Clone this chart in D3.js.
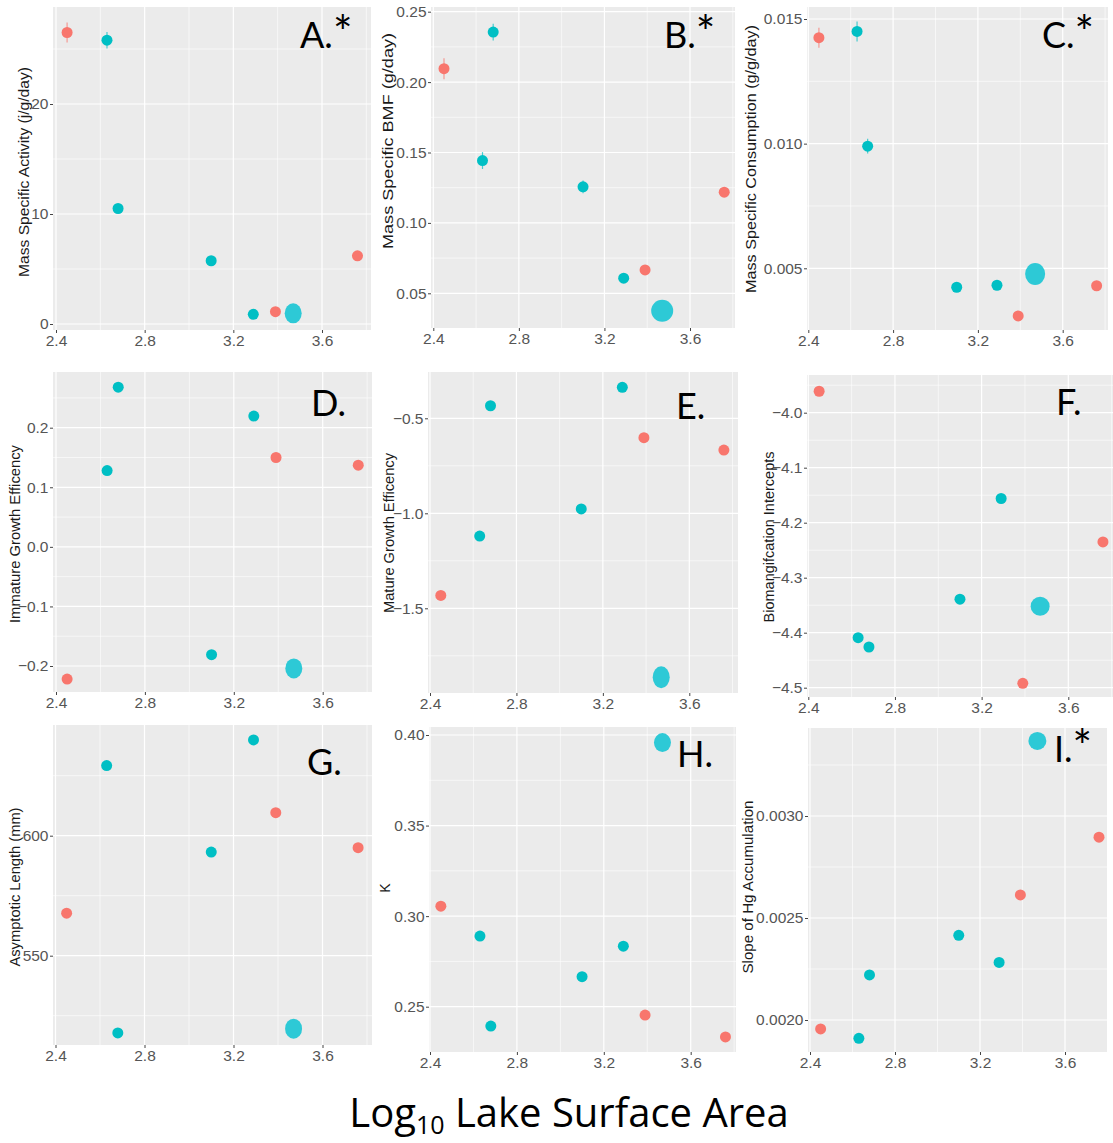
<!DOCTYPE html>
<html>
<head>
<meta charset="utf-8">
<script src="https://cdn.jsdelivr.net/npm/d3@7"></script>
<style>
  html, body { margin: 0; padding: 0; background: #fff; }
  svg { display: block; }
</style>
</head>
<body>
<svg id="fig" width="1113" height="1143"></svg>
<script>
// Log10 lake surface area of each lake and the lake grouping
const lakeArea = [2.45, 2.63, 2.68, 3.10, 3.29, 3.39, 3.47, 3.76];
const lakeGroup = ["red", "cyan", "cyan", "cyan", "cyan", "red", "highlight", "red"];

// Response variables, one value per lake (same order as lakeArea)
const massActivity   = [26.5, 25.8, 10.5, 5.75, 0.88, 1.12, 0.97, 6.2];
const activityErr    = [0.9, 0.75, 0, 0, 0, 0, 0, 0];
const massBMF        = [0.2095, 0.1443, 0.2355, 0.1256, 0.0607, 0.0666, 0.0376, 0.1218];
const bmfErr         = [0.0075, 0.006, 0.006, 0.0045, 0, 0, 0, 0];
const massConsumption = [0.01425, 0.0145, 0.0099, 0.00424, 0.00432, 0.00309, 0.00477, 0.0043];
const consumptionErr = [0.0004, 0.0004, 0.0003, 0, 0, 0, 0, 0];
const immatureEff    = [-0.222, 0.128, 0.268, -0.181, 0.2196, 0.150, -0.204, 0.137];
const matureEff      = [-1.432, -1.12, -0.434, -0.977, -0.337, -0.602, -1.863, -0.667];
const biomagIntercept = [-3.961, -4.409, -4.426, -4.339, -4.156, -4.492, -4.352, -4.235];
const asymLength     = [567.7, 629.2, 517.8, 593.2, 639.9, 609.6, 519.6, 595.0];
const growthK        = [0.3055, 0.289, 0.2393, 0.2666, 0.2834, 0.2454, 0.3958, 0.2333];
const hgSlope        = [0.001956, 0.00191, 0.002221, 0.002415, 0.002282, 0.002613, 0.003368, 0.002896];

// Axis ticks
const xTicks = [2.4, 2.8, 3.2, 3.6];
const xMinor = [2.6, 3.0, 3.4, 3.8];
const xTickLabels = ["2.4", "2.8", "3.2", "3.6"];

const colors = { red: "#F8766D", cyan: "#00BFC4", highlight: "#2DC9D6" };

// Panel definitions: values, axis ticks and labels
const panels = [
  { tag: "A.*", ylab: "Mass Specific Activity (j/g/day)", y: massActivity, err: activityErr,
    ticks: [0, 10, 20], minor: [5, 15, 25], fmt: "d" },
  { tag: "B.*", ylab: "Mass Specific BMF (g/day)", y: massBMF, err: bmfErr,
    ticks: [0.05, 0.10, 0.15, 0.20, 0.25], minor: [0.075, 0.125, 0.175, 0.225], fmt: ".2f" },
  { tag: "C.*", ylab: "Mass Specific Consumption (g/g/day)", y: massConsumption, err: consumptionErr,
    ticks: [0.005, 0.010, 0.015], minor: [0.0075, 0.0125], fmt: ".3f" },
  { tag: "D.", ylab: "Immature Growth Efficency", y: immatureEff, err: null,
    ticks: [-0.2, -0.1, 0.0, 0.1, 0.2], minor: [-0.15, -0.05, 0.05, 0.15, 0.25], fmt: ".1f" },
  { tag: "E.", ylab: "Mature Growth Efficency", y: matureEff, err: null,
    ticks: [-1.5, -1.0, -0.5], minor: [-1.75, -1.25, -0.75, -0.25], fmt: ".1f" },
  { tag: "F.", ylab: "Biomangifcation Intercepts", y: biomagIntercept, err: null,
    ticks: [-4.5, -4.4, -4.3, -4.2, -4.1, -4.0], minor: [-4.45, -4.35, -4.25, -4.15, -4.05, -3.95], fmt: ".1f" },
  { tag: "G.", ylab: "Asymptotic Length (mm)", y: asymLength, err: null,
    ticks: [550, 600], minor: [525, 575, 625], fmt: "d" },
  { tag: "H.", ylab: "K", y: growthK, err: null,
    ticks: [0.25, 0.30, 0.35, 0.40], minor: [0.275, 0.325, 0.375], fmt: ".2f" },
  { tag: "I.*", ylab: "Slope of Hg Accumulation", y: hgSlope, err: null,
    ticks: [0.0020, 0.0025, 0.0030], minor: [0.00225, 0.00275, 0.00325], fmt: ".4f" }
];

// Page layout of each panel: plot box, pixel anchors for the scales,
// y-label placement, tag placement and the size of the highlighted point.
const layout = [
  { box: [53, 7, 371, 330],    xr: [56, 322],      yr: [324, 104],     yl: [24, 172, 210],  tag: [300, 48],  big: [8.5, 10] },
  { box: [431, 7, 735, 328],   xr: [433.3, 690],   yr: [293.3, 11.7],  yl: [388, 141, 216], tag: [664, 48],  big: [11, 11] },
  { box: [807, 7, 1108, 330],  xr: [808.3, 1062.7], yr: [268.3, 19],   yl: [751, 159, 268], tag: [1042, 48], big: [10, 11] },
  { box: [53, 372, 372, 692],  xr: [56, 322.7],    yr: [666, 427.7],   yl: [15, 534, 178],  tag: [311, 416], big: [8.5, 10] },
  { box: [428, 372, 738, 693], xr: [430, 689.3],   yr: [608.3, 418.3], yl: [389, 533, 160], tag: [676, 419], big: [8.5, 11] },
  { box: [807, 375, 1113, 697], xr: [808.3, 1068.3], yr: [687.7, 412.7], yl: [769, 537, 171], tag: [1056, 415], big: [9.5, 9.5] },
  { box: [53, 725, 372, 1045], xr: [55.5, 322.5],  yr: [955.7, 835.7], yl: [15, 887, 159], tag: [307, 775], big: [8.5, 10] },
  { box: [429, 727, 736, 1052], xr: [430, 690.7],  yr: [1006.7, 735],  yl: [385, 888, 0],   tag: [677, 767], big: [8.5, 9.5] },
  { box: [808, 728, 1107, 1052], xr: [810, 1065],  yr: [1020, 816],    yl: [748, 887, 173], tag: [1054, 762], big: [9, 9] }
];

const svg = d3.select("#fig");
const tickFont = "'Liberation Sans', Arial, sans-serif";
const titleFont = "Lato, 'Open Sans', sans-serif";

panels.forEach((p, i) => {
  const L = layout[i];
  const [x0, y0, x1, y1] = L.box;
  const t = p.ticks;
  const x = d3.scaleLinear().domain([xTicks[0], xTicks[xTicks.length - 1]]).range(L.xr);
  const y = d3.scaleLinear().domain([t[0], t[t.length - 1]]).range(L.yr);

  const g = svg.append("g");
  const clipId = "clip" + i;
  g.append("clipPath").attr("id", clipId)
    .append("rect").attr("x", x0).attr("y", y0).attr("width", x1 - x0).attr("height", y1 - y0);

  g.append("rect").attr("x", x0).attr("y", y0).attr("width", x1 - x0).attr("height", y1 - y0)
    .attr("fill", "#EBEBEB");

  const grid = g.append("g").attr("clip-path", `url(#${clipId})`);
  // minor grid
  grid.selectAll("line.xm").data(xMinor).join("line")
    .attr("x1", d => x(d)).attr("x2", d => x(d)).attr("y1", y0).attr("y2", y1)
    .attr("stroke", "#fff").attr("stroke-width", 0.6);
  grid.selectAll("line.ym").data(p.minor).join("line")
    .attr("y1", d => y(d)).attr("y2", d => y(d)).attr("x1", x0).attr("x2", x1)
    .attr("stroke", "#fff").attr("stroke-width", 0.6);
  // major grid
  grid.selectAll("line.xM").data(xTicks).join("line")
    .attr("x1", d => x(d)).attr("x2", d => x(d)).attr("y1", y0).attr("y2", y1)
    .attr("stroke", "#fff").attr("stroke-width", 1.2);
  grid.selectAll("line.yM").data(t).join("line")
    .attr("y1", d => y(d)).attr("y2", d => y(d)).attr("x1", x0).attr("x2", x1)
    .attr("stroke", "#fff").attr("stroke-width", 1.2);

  // axes
  const xAxis = d3.axisBottom(x).tickValues(xTicks).tickFormat((d, k) => xTickLabels[k])
    .tickSize(3).tickPadding(2);
  const yAxis = d3.axisLeft(y).tickValues(t).tickFormat(d3.format(p.fmt))
    .tickSize(3).tickPadding(1.5);
  const gx = g.append("g").attr("transform", `translate(0,${y1})`).call(xAxis);
  const gy = g.append("g").attr("transform", `translate(${x0},0)`).call(yAxis);
  [gx, gy].forEach(a => {
    a.select(".domain").remove();
    a.selectAll(".tick line").attr("stroke", "#444").attr("stroke-width", 1);
    a.selectAll(".tick text").attr("fill", "#555")
      .style("font-family", tickFont).style("font-size", "15.5px");
  });

  // y-axis title
  if (p.ylab) {
    const yt = g.append("text")
      .attr("transform", `translate(${L.yl[0]},${L.yl[1]}) rotate(-90)`)
      .attr("text-anchor", "middle").attr("dominant-baseline", "central")
      .attr("fill", "#1A1A1A")
      .style("font-family", tickFont).style("font-size", "14px")
      .text(p.ylab);
    if (L.yl[2] > 0) yt.attr("textLength", L.yl[2]).attr("lengthAdjust", "spacingAndGlyphs");
  }

  const pts = g.append("g").attr("clip-path", `url(#${clipId})`);
  const idx = d3.range(lakeArea.length);

  // error bars
  if (p.err) {
    pts.selectAll("line.err").data(idx.filter(k => p.err[k] > 0)).join("line")
      .attr("x1", k => x(lakeArea[k])).attr("x2", k => x(lakeArea[k]))
      .attr("y1", k => y(p.y[k] - p.err[k])).attr("y2", k => y(p.y[k] + p.err[k]))
      .attr("stroke", k => colors[lakeGroup[k]]).attr("stroke-opacity", 0.7).attr("stroke-width", 1.2);
  }

  // points
  pts.selectAll("ellipse").data(idx).join("ellipse")
    .attr("cx", k => x(lakeArea[k])).attr("cy", k => y(p.y[k]))
    .attr("rx", k => lakeGroup[k] === "highlight" ? L.big[0] : 5.5)
    .attr("ry", k => lakeGroup[k] === "highlight" ? L.big[1] : 5.5)
    .attr("fill", k => colors[lakeGroup[k]]);

  // panel tag
  const tag = p.tag.replace("*", "");
  const tg = g.append("text").attr("x", L.tag[0]).attr("y", L.tag[1])
    .attr("fill", "#000").style("font-family", titleFont).style("font-size", "36px");
  tg.append("tspan").text(tag);
  if (p.tag.includes("*")) {
    tg.append("tspan").attr("dy", 1).style("font-size", "46px").text("*");
  }
});

// shared x-axis title
const xt = svg.append("text").attr("x", 569).attr("y", 1127).attr("text-anchor", "middle")
  .attr("fill", "#000").style("font-family", "'Open Sans', Lato, sans-serif").style("font-size", "40px");
xt.append("tspan").text("Log");
xt.append("tspan").attr("dy", 7).style("font-size", "25px").text("10");
xt.append("tspan").attr("dy", -7).text(" Lake Surface Area");
</script>
</body>
</html>
